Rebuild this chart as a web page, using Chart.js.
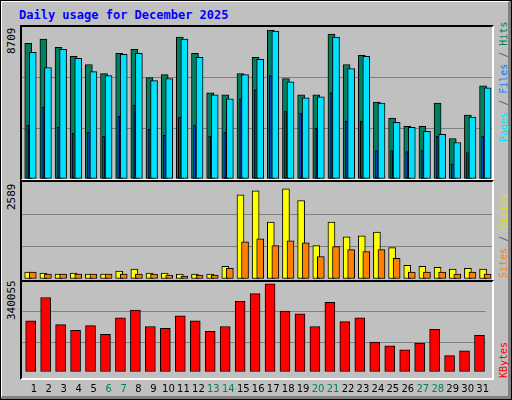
<!DOCTYPE html>
<html><head><meta charset="utf-8">
<script src="https://cdn.jsdelivr.net/npm/chart.js@4"></script>
<style>
body{margin:0;background:#fff}
#wrap{position:relative;width:512px;height:400px;background:#c0c0c0;box-sizing:border-box;border-top:2px solid #fff;border-left:2px solid #fff;border-right:4px solid #808080;border-bottom:4px solid #808080;outline:1px solid #000;outline-offset:-1px}
.t{position:absolute;font-family:"DejaVu Sans Mono",monospace;white-space:nowrap}
.panel{position:absolute;border-top:2px solid #000;border-left:2px solid #000;border-right:2px solid #fff;border-bottom:2px solid #fff;box-sizing:border-box}
canvas{position:absolute}
.rot{transform-origin:0 0;transform:rotate(-90deg)}
</style></head><body>
<div id="wrap">
<div class="t" style="left:17px;top:6px;color:#0000ff;font-weight:bold;font-size:12px">Daily usage for December 2025</div>
<div class="panel" style="left:18px;top:23px;width:474px;height:156px"></div>
<div class="panel" style="left:18px;top:178px;width:474px;height:102px"></div>
<div class="panel" style="left:18px;top:278px;width:474px;height:100px"></div>
<canvas id="c1" style="left:20px;top:25px"></canvas>
<canvas id="c2" style="left:20px;top:180px"></canvas>
<canvas id="c3" style="left:20px;top:280px"></canvas>
<div class="t rot" style="left:3px;top:52px;font-size:11px">8709</div>
<div class="t rot" style="left:3px;top:208px;font-size:11px">2589</div>
<div class="t rot" style="left:3px;top:318px;font-size:11px">340055</div>
<div class="t rot" style="left:496px;top:140px;font-size:10px"><span style="color:#00e0ff">Pages</span><span style="color:#606060"> / </span><span style="color:#0080ff">Files</span><span style="color:#606060"> / </span><span style="color:#008060">Hits</span></div>
<div class="t rot" style="left:496px;top:276px;font-size:10px"><span style="color:#ff8000">Sites</span><span style="color:#606060"> / </span><span style="color:#e0e000">Visits</span></div>
<div class="t rot" style="left:496px;top:376px;font-size:10px;color:#ff0000">KBytes</div>
</div>
<script>
const days = Array.from({length: 31}, (_, i) => i + 1);
const weekend = [6, 7, 13, 14, 20, 21, 27, 28];

const hits = [7780,8012,7548,7025,6560,6038,7200,7432,5806,5980,8128,7200,4935,4819,6038,6967,8535,5748,4819,4819,8303,6560,7083,4412,3484,3019,3019,4354,2322,3658,5341];
const files = [7257,6387,7432,6909,6154,5922,7141,7200,5632,5748,8012,6967,4819,4587,5980,6851,8477,5574,4645,4703,8128,6329,7025,4354,3251,2961,2729,2554,2090,3542,5225];
const pages = [3077,4122,2961,2613,2671,2438,3600,4238,2845,2497,3542,3077,2438,2671,4587,5109,5922,3890,3774,2903,4935,3309,3309,1626,1626,1568,1626,2438,871,1510,2438];
const visits = [183,157,131,157,131,131,209,262,157,157,131,131,131,340,2249,2354,1517,2406,2092,889,1517,1125,1151,1255,837,366,340,314,262,288,262];
const sites = [183,131,131,131,131,131,131,131,131,105,78,105,105,288,994,1072,889,1020,968,601,863,785,732,785,549,183,183,183,131,183,131];
const kbytes = [193800,281550,179170,157230,175510,142600,204770,234020,171860,164540,212080,193800,153570,171860,266920,296180,332740,230360,219390,171860,263270,190140,204770,113350,98720,84100,109690,160880,62160,80440,138940];
const maxHits = 8709, maxVisits = 2589, maxKB = 340055;
const labelOff = -0.21;

const pts = (arr, off) => arr.map((v, i) => ({x: days[i] + off, y: v}));
const ds = (arr, off, color, w, order) => ({data: pts(arr, off), backgroundColor: color, borderColor: '#000', borderWidth: 1, barThickness: w, order: order, grouped: false, borderSkipped: false});

function yScale(max) {
    return {min: 0, max: max, ticks: {display: false, stepSize: max / 3}, border: {display: false},
        grid: {drawTicks: false, color: c => (c.index === 0 || c.index === 3) ? 'rgba(0,0,0,0)' : '#808080'}};
}
function xScale(show) {
    return {type: 'linear', min: 0, max: 31, offset: false, border: {display: false}, grid: {display: false},
        display: show,
        afterBuildTicks: s => { s.ticks = days.map(d => ({value: d + labelOff})); },
        ticks: {autoSkip: false, maxRotation: 0, padding: 3, font: {family: 'DejaVu Sans', size: 10},
            callback: v => Math.round(v - labelOff),
            color: c => weekend.includes(Math.round(c.tick.value - labelOff)) ? '#008060' : '#000'}};
}
function makeChart(id, w, h, datasets, max, showX) {
    const cv = document.getElementById(id);
    cv.width = w; cv.height = h; cv.style.width = w + 'px'; cv.style.height = h + 'px';
    return new Chart(cv, {
        type: 'bar',
        data: {datasets: datasets},
        options: {responsive: false, animation: false, devicePixelRatio: 1,
            layout: {padding: 0},
            plugins: {legend: {display: false}, tooltip: {enabled: false}},
            scales: {x: xScale(showX), y: yScale(max)}}
    });
}

makeChart('c1', 470, 152, [
    ds(hits, -0.59, '#008060', 7, 3),
    ds(files, -0.29, '#00e0ff', 7, 2),
    ds(pages, -0.62, '#0040ff', 2, 1)
], maxHits, false);
makeChart('c2', 470, 97, [
    ds(visits, -0.59, '#ffff00', 7, 2),
    ds(sites, -0.29, '#ff8000', 7, 1)
], maxVisits, false);
makeChart('c3', 470, 116, [
    ds(kbytes, -0.42, '#ff0000', 10, 1)
], maxKB, true);
</script>
</body></html>
